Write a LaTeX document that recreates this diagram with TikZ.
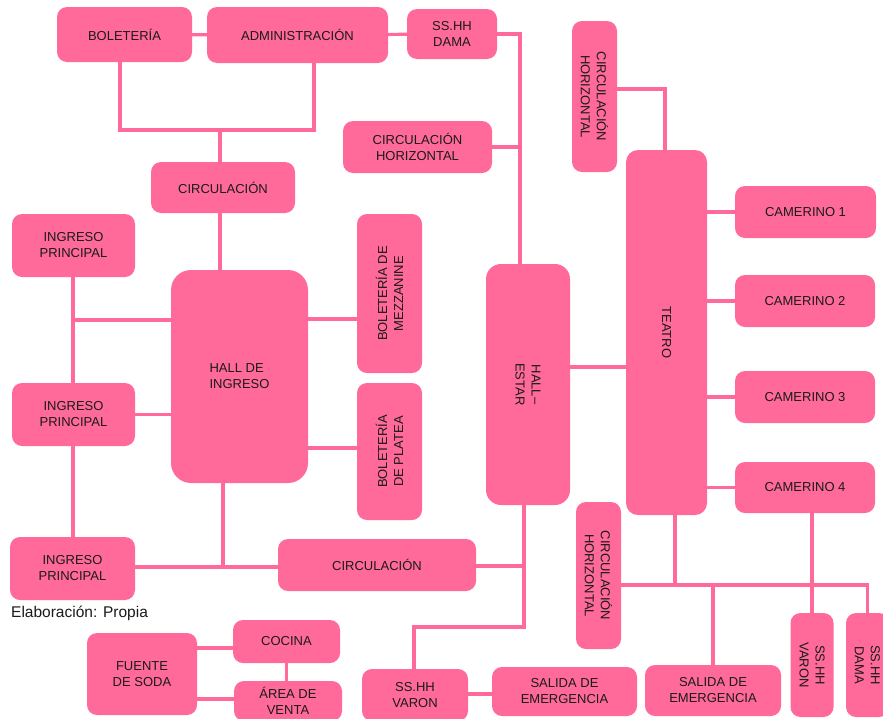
\documentclass[tikz,border=0pt]{standalone}
\usepackage{fontspec}
\setmainfont{Liberation Sans}
\usetikzlibrary{backgrounds}
\definecolor{pk}{HTML}{FF6A9B}
\definecolor{tx}{HTML}{1A1A1A}
\begin{document}
\begin{tikzpicture}[x=1pt,y=-1pt,
  box/.style={fill=pk, rounded corners=10pt, align=center, inner sep=1pt, text=tx, font=\fontsize{13}{16}\selectfont},
  sz/.style 2 args={minimum width=#1pt, minimum height=#2pt},
  ln/.style={draw=pk, line width=3.2pt}]
\useasboundingbox (0,0) rectangle (883,718);
% nodes
\node[box,sz={135}{55}] (bol) at (124.5,34.5) {BOLETERÍA};
\node[box,sz={181}{56}] (adm) at (297.5,35) {ADMINISTRACIÓN};
\node[box,sz={90}{50}] (dama1) at (452,34) {SS.HH\\DAMA};
\node[box,sz={149}{52}] (circH1) at (417.5,147) {CIRCULACIÓN\\HORIZONTAL};
\node[box,sz={144}{51}] (circ1) at (223,187.5) {CIRCULACIÓN};
\node[box,sz={123}{63}] (ip1) at (73.5,245.5) {INGRESO\\PRINCIPAL};
\node[box,sz={123}{63}] (ip2) at (73.5,414.5) {INGRESO\\PRINCIPAL};
\node[box,sz={125}{63}] (ip3) at (72.5,568.5) {INGRESO\\PRINCIPAL};
\node[box,sz={137}{213},rounded corners=20pt,align=left] (hallI) at (239.5,376.5) {HALL DE\\INGRESO};
\node[box,sz={159}{65},rotate=90] (mez) at (389.5,293.5) {BOLETERÍA DE\\MEZZANINE};
\node[box,sz={137}{65},rotate=90] (plat) at (389.5,451.5) {BOLETERÍA\\DE PLATEA};
\node[box,sz={198}{52}] (circ2) at (377,565) {CIRCULACIÓN};
\node[box,sz={241}{84},rotate=-90,rounded corners=15pt] (hallE) at (528,384.5) {HALL–\\ESTAR};
\node[box,sz={151}{45},rotate=-90] (circV1) at (594.5,96.5) {CIRCULACIÓN\\HORIZONTAL};
\node[box,sz={365}{81},rotate=-90,rounded corners=12pt] (teatro) at (666.5,332.5) {TEATRO};
\node[box,sz={141}{52}] (cam1) at (805.5,212) {CAMERINO 1};
\node[box,sz={140}{52}] (cam2) at (805,301) {CAMERINO 2};
\node[box,sz={140}{52}] (cam3) at (805,397) {CAMERINO 3};
\node[box,sz={140}{51}] (cam4) at (805,487.5) {CAMERINO 4};
\node[box,sz={147}{45},rotate=-90] (circV2) at (598.5,575.5) {CIRCULACIÓN\\HORIZONTAL};
\node[box,sz={104}{43},rotate=-90] (varonR) at (812,665) {SS.HH\\VARON};
\node[box,sz={104}{43},rotate=-90] (damaR) at (867.5,665) {SS.HH\\DAMA};
\node[box,sz={145}{49}] (sal1) at (564.5,691.5) {SALIDA DE\\EMERGENCIA};
\node[box,sz={136}{51}] (sal2) at (713,690.5) {SALIDA DE\\EMERGENCIA};
\node[box,sz={106}{52}] (varonB) at (415,695) {SS.HH\\VARON};
\node[box,sz={110}{82}] (fuente) at (142,674) {FUENTE\\DE SODA};
\node[box,sz={107}{43}] (cocina) at (286.5,641.5) {COCINA};
\node[box,sz={108}{40}] (area) at (288,701) {ÁREA DE\\VENTA};
\node[anchor=base west, inner sep=0pt, font=\fontsize{15.5}{18}\selectfont, text=tx] (cap) at (11,617) {Elaboración: Propia};
% connectors
\begin{scope}[on background layer]
\coordinate (j1) at (520,34);
\draw[ln] (dama1.center) -- (j1) -- (j1 |- hallE.center);
\draw[ln] (circH1.center) -- (j1 |- circH1.center);
\draw[ln] (bol.center) -- (adm.center) -- (dama1.center);
\coordinate (j2) at (120,130);
\coordinate (j3) at (314,130);
\coordinate (j4) at (220,130);
\draw[ln] (j2 |- bol.center) -- (j2) -- (j3) -- (j3 |- adm.center);
\draw[ln] (j4) -- (j4 |- hallI.center);
\coordinate (k1) at (73,320);
\draw[ln] (k1 |- ip1.center) -- (k1 |- ip3.center);
\draw[ln] (k1) -- (hallI.center |- k1);
\draw[ln] (ip2.center) -- (hallI.center |- ip2.center);
\coordinate (k2) at (330,319);
\draw[ln] (hallI.center |- k2) -- (mez.center |- k2);
\coordinate (k3) at (330,448);
\draw[ln] (hallI.center |- k3) -- (plat.center |- k3);
\coordinate (j5) at (223,567);
\draw[ln] (ip3.center |- j5) -- (circ2.center |- j5);
\draw[ln] (j5) -- (j5 |- hallI.center);
\coordinate (j6) at (524,566);
\coordinate (j7) at (524,627);
\coordinate (j8) at (414,627);
\draw[ln] (circ2.center |- j6) -- (j6);
\draw[ln] (j6 |- hallE.center) -- (j7) -- (j8) -- (j8 |- varonB.center);
\coordinate (k4) at (440,694);
\draw[ln] (varonB.center |- k4) -- (sal1.center |- k4);
\coordinate (k5) at (600,367);
\draw[ln] (hallE.center |- k5) -- (teatro.center |- k5);
\coordinate (j9) at (665,89);
\draw[ln] (circV1.center |- j9) -- (j9) -- (j9 |- teatro.center);
\foreach \c in {cam1,cam2,cam3,cam4} \draw[ln] (teatro.center |- \c.center) -- (\c.center);
\coordinate (j10) at (675,585);
\draw[ln] (circV2.center |- j10) -- (damaR.center |- j10) -- (damaR.center);
\draw[ln] (j10 |- teatro.center) -- (j10);
\draw[ln] (sal2.center |- j10) -- (sal2.center);
\draw[ln] (varonR.center |- cam4.center) -- (varonR.center);
\coordinate (k6) at (200,648);
\coordinate (k7) at (200,699);
\draw[ln] (fuente.center |- k6) -- (cocina.center |- k6);
\draw[ln] (fuente.center |- k7) -- (area.center |- k7);
\draw[ln] (cocina.center) -- (cocina.center |- area.center);
\end{scope}
\end{tikzpicture}
\end{document}
